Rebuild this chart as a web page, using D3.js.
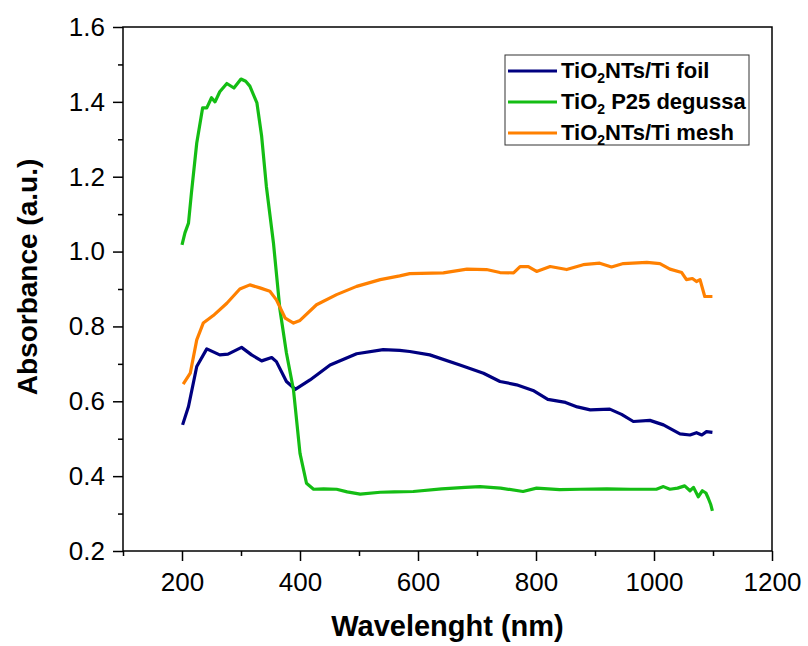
<!DOCTYPE html>
<meta charset="utf-8">
<style>
    body { margin: 0; background: #fff; }
    text { font-family: Arial, "Liberation Sans", sans-serif; fill: #000; }
    .curve { fill: none; stroke-width: 3.2px; stroke-linejoin: round; }
</style>
<svg width="808" height="646"></svg>
<script src="https://d3js.org/d3.v7.min.js"></script>
<script>
    // series
    var p25Nm = [200,205,211,216,225,235,242,250,256,264,276,288,300,308,315,327,335,343,355,366,377,389,400,411,423,440,462,480,502,536,560,592,640,680,705,740,778,801,840,875,920,960,1004,1016,1027,1040,1052,1061,1067,1075,1082,1088,1092,1096,1099];
    var p25Abs = [1.018,1.05,1.076,1.157,1.29,1.384,1.384,1.411,1.40,1.427,1.449,1.437,1.461,1.455,1.442,1.397,1.308,1.174,1.023,0.845,0.729,0.63,0.461,0.381,0.365,0.366,0.365,0.358,0.352,0.357,0.358,0.359,0.366,0.370,0.372,0.368,0.359,0.368,0.364,0.365,0.366,0.365,0.365,0.372,0.365,0.368,0.374,0.361,0.370,0.345,0.361,0.355,0.341,0.325,0.307];

    var foilNm = [201,211,225,242,264,278,301,318,335,352,360,377,392,417,451,496,541,569,586,620,671,711,739,767,795,820,850,870,892,925,945,965,993,1016,1044,1061,1072,1081,1089,1099];
    var foilAbs = [0.537,0.586,0.693,0.740,0.724,0.726,0.744,0.724,0.708,0.717,0.706,0.653,0.632,0.657,0.697,0.727,0.738,0.736,0.733,0.724,0.697,0.675,0.653,0.644,0.629,0.605,0.597,0.585,0.577,0.579,0.565,0.546,0.549,0.537,0.513,0.510,0.516,0.510,0.519,0.517];

    var meshNm = [202,214,225,236,253,276,298,315,332,349,360,375,389,400,428,462,496,536,569,586,643,683,716,739,762,773,787,801,824,852,880,908,928,948,988,1010,1027,1047,1055,1065,1072,1078,1086,1092,1099];
    var meshAbs = [0.646,0.675,0.764,0.809,0.829,0.862,0.900,0.911,0.903,0.894,0.871,0.822,0.809,0.816,0.858,0.885,0.907,0.925,0.935,0.941,0.943,0.953,0.952,0.944,0.943,0.960,0.960,0.947,0.960,0.952,0.965,0.969,0.959,0.968,0.971,0.968,0.953,0.944,0.925,0.928,0.920,0.925,0.880,0.880,0.880];

    var xTicks = [200,400,600,800,1000,1200];
    var xMinor = [100,300,500,700,900,1100];
    var yTicks = [0.2,0.4,0.6,0.8,1.0,1.2,1.4,1.6];
    var yMinor = [0.3,0.5,0.7,0.9,1.1,1.3,1.5];

    var legendNames = [["TiO","2","NTs/Ti foil"], ["TiO","2"," P25 degussa"], ["TiO","2","NTs/Ti mesh"]];
    var colors = ["#000080", "#14bd14", "#ff8000"];

    var svg = d3.select("svg"),
        plotL = 123, plotR = 772, plotT = 27, plotB = 551;

    var x = d3.scaleLinear().domain([100, 1200]).range([plotL, plotR]);
    var y = d3.scaleLinear().domain([0.2, 1.6]).range([plotB, plotT]);

    // x axis
    var gx = svg.append("g").attr("transform", "translate(0," + plotB + ")");
    gx.call(d3.axisBottom(x).tickValues(xTicks).tickSize(10).tickPadding(12).tickFormat(d3.format("d")));
    gx.append("g").call(d3.axisBottom(x).tickValues(xMinor).tickSize(5).tickFormat(""));
    gx.selectAll(".domain").remove();
    gx.selectAll("line").attr("stroke", "#000").attr("stroke-width", 1.5);
    gx.selectAll("text").style("font-size", "26px");

    // y axis
    var gy = svg.append("g").attr("transform", "translate(" + plotL + ",0)");
    gy.call(d3.axisLeft(y).tickValues(yTicks).tickSize(10).tickPadding(8).tickFormat(d3.format(".1f")));
    gy.append("g").call(d3.axisLeft(y).tickValues(yMinor).tickSize(5).tickFormat(""));
    gy.selectAll(".domain").remove();
    gy.selectAll("line").attr("stroke", "#000").attr("stroke-width", 1.5);
    gy.selectAll("text").style("font-size", "26px");

    // frame
    svg.append("rect")
        .attr("x", plotL).attr("y", plotT)
        .attr("width", plotR - plotL).attr("height", plotB - plotT)
        .attr("fill", "none").attr("stroke", "#000").attr("stroke-width", 1.5);

    // titles
    svg.append("text")
        .attr("x", (plotL + plotR) / 2).attr("y", 636)
        .attr("text-anchor", "middle")
        .style("font-size", "29px").style("font-weight", "bold")
        .text("Wavelenght (nm)");

    svg.append("text")
        .attr("transform", "translate(37,277) rotate(-90)")
        .attr("text-anchor", "middle")
        .style("font-size", "28px").style("font-weight", "bold")
        .text("Absorbance (a.u.)");

    // curves
    var line = d3.line()
        .x(function(d) { return x(d[0]); })
        .y(function(d) { return y(d[1]); });

    var series = [
        d3.zip(foilNm, foilAbs),
        d3.zip(p25Nm, p25Abs),
        d3.zip(meshNm, meshAbs)
    ];

    svg.append("g").selectAll("path")
        .data(series)
        .enter().append("path")
        .attr("class", "curve")
        .attr("stroke", function(d, i) { return colors[i]; })
        .attr("d", line);

    // legend
    var legend = svg.append("g");
    legend.append("rect")
        .attr("x", 505).attr("y", 55)
        .attr("width", 244).attr("height", 90)
        .attr("fill", "#fff").attr("stroke", "#333").attr("stroke-width", 1);

    var item = legend.selectAll("g.item")
        .data(legendNames)
        .enter().append("g")
        .attr("class", "item")
        .attr("transform", function(d, i) { return "translate(0," + (71 + i * 31) + ")"; });

    item.append("line")
        .attr("x1", 508).attr("x2", 557)
        .attr("stroke", function(d, i) { return colors[i]; })
        .attr("stroke-width", 3.2);

    var label = item.append("text")
        .attr("x", 561).attr("y", 7)
        .style("font-size", "22px").style("font-weight", "bold");
    label.append("tspan").text(function(d) { return d[0]; });
    label.append("tspan").attr("dy", 5).style("font-size", "14px").text(function(d) { return d[1]; });
    label.append("tspan").attr("dy", -5).text(function(d) { return d[2]; });
</script>
